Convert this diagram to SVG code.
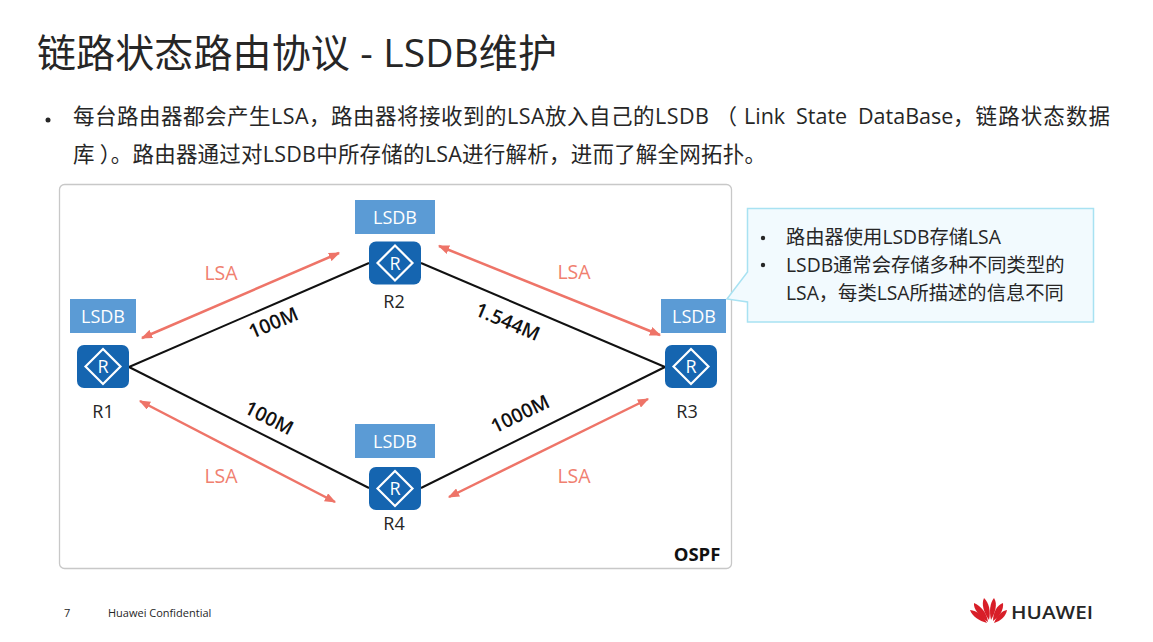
<svg xmlns="http://www.w3.org/2000/svg" width="1153" height="642" viewBox="0 0 1153 642">
<style>
text{font-family:"Open Sans","Noto Sans CJK SC","Noto Sans",sans-serif;fill:#262626}
.title{font-size:39px}
.body{font-size:21.500px}
.call{font-size:19.300px}
.name{font-size:18px;text-anchor:middle}
.db{fill:#5b9bd5}
.dbt{font-size:18px;fill:#fff;text-anchor:middle}
.lsa{font-size:19.500px;fill:#f08070;text-anchor:middle}
.bw{font-size:19.500px;font-weight:600;fill:#111;text-anchor:middle}
.ic{fill:#1565b0}
.dia{fill:none;stroke:#fff;stroke-width:2.200}
.rt{font-size:18px;fill:#fff;text-anchor:middle}
.link{stroke:#111;stroke-width:2;fill:none}
.flow{stroke:#ee7468;stroke-width:2.500;fill:none;marker-start:url(#a);marker-end:url(#a)}
.petal{fill:#d81e28}
</style>
<defs>
<marker id="a" viewBox="0 0 10 8" refX="9" refY="4" markerWidth="4.500" markerHeight="3.600" orient="auto-start-reverse"><path d="M0 0L10 4L0 8z" fill="#ee7468"/></marker>
<g id="router"><rect class="ic" x="-26" y="-21.500" width="52" height="43" rx="7"/><path class="dia" d="M0-17.500L17.500 0L0 17.500L-17.500 0z"/><text class="rt" y="6.500">R</text></g>
</defs>
<rect width="1153" height="642" fill="#fff"/>
<text class="title" x="37" y="67" textLength="520" lengthAdjust="spacing">链路状态路由协议 - LSDB维护</text>
<circle cx="48" cy="120" r="2.500" fill="#262626"/>
<text class="body" x="73" y="124" textLength="664" lengthAdjust="spacing">每台路由器都会产生LSA，路由器将接收到的LSA放入自己的LSDB<tspan dx="6">（</tspan></text>
<text class="body" x="744" y="124">Link</text>
<text class="body" x="796" y="124">State</text>
<text class="body" x="858" y="124">DataBase</text>
<text class="body" x="953" y="124" textLength="157" lengthAdjust="spacing">，链路状态数据</text>
<text class="body" x="73" y="162" textLength="693" lengthAdjust="spacing">库<tspan dx="5">）</tspan>。路由器通过对LSDB中所存储的LSA进行解析，进而了解全网拓扑。</text>
<rect id="panel" x="59.500" y="184.500" width="672" height="384" rx="5" fill="#fff" stroke="#c8c8c8" stroke-width="1.300"/>
<g id="connectors">
<path class="link" d="M129 367L369 263"/>
<path class="link" d="M421 263L665 367"/>
<path class="link" d="M129 367L369 488"/>
<path class="link" d="M421 488L665 367"/>
<path class="flow" d="M142 338L339 253"/>
<path class="flow" d="M439 246L660 335"/>
<path class="flow" d="M140 401L335 502"/>
<path class="flow" d="M449 497L648 399"/>
</g>
<g id="labels">
<text class="lsa" x="221" y="280">LSA</text>
<text class="lsa" x="574" y="279">LSA</text>
<text class="lsa" x="221" y="483">LSA</text>
<text class="lsa" x="574" y="483">LSA</text>
<text class="bw" transform="translate(276 329) rotate(-23)">100M</text>
<text class="bw" transform="translate(505 328) rotate(23)">1.544M</text>
<text class="bw" transform="translate(266 424) rotate(27)">100M</text>
<text class="bw" transform="translate(523 420) rotate(-26)">1000M</text>
<text x="697" y="561" font-size="18.500" font-weight="700" text-anchor="middle" style="fill:#111">OSPF</text>
</g>
<g id="R1"><rect class="db" x="70" y="299" width="66" height="34"/><text class="dbt" x="103" y="323">LSDB</text><use href="#router" x="103" y="366.500"/><text class="name" x="103" y="418">R1</text></g>
<g id="R2"><rect class="db" x="355" y="200" width="80" height="34"/><text class="dbt" x="395" y="224">LSDB</text><use href="#router" x="395" y="263"/><text class="name" x="394" y="308">R2</text></g>
<g id="R3"><rect class="db" x="661" y="299" width="65" height="34"/><text class="dbt" x="694" y="323">LSDB</text><use href="#router" x="691" y="366.500"/><text class="name" x="687" y="418">R3</text></g>
<g id="R4"><rect class="db" x="355" y="424" width="80" height="34"/><text class="dbt" x="395" y="448">LSDB</text><use href="#router" x="395" y="488.500"/><text class="name" x="394" y="530">R4</text></g>
<g id="callout">
<path d="M747.500 208.500H1093.500V322H747.500V302L727 299L747.500 272z" fill="#f2fafe" stroke="#a8e2f2" stroke-width="1.500"/>
<circle cx="763" cy="238" r="2.200" fill="#262626"/>
<text class="call" x="786" y="244">路由器使用LSDB存储LSA</text>
<circle cx="763" cy="265" r="2.200" fill="#262626"/>
<text class="call" x="786" y="272">LSDB通常会存储多种不同类型的</text>
<text class="call" x="786" y="300">LSA，每类LSA所描述的信息不同</text>
</g>
<g id="footer">
<text x="64" y="617" font-size="11">7</text>
<text x="108" y="617" font-size="11">Huawei Confidential</text>
<g id="logo">
<path class="petal" d="M987 623C979 621 972 616 970 610C977 611 983 615 987 623z"/>
<path class="petal" d="M988 622C980 617 973 609 974 603C981 606 987 613 988 622z"/>
<path class="petal" d="M989 620C984 613 981 604 984 598C989 603 991 611 989 620z"/>
<path class="petal" d="M991 620C989 611 990 603 994 598C998 604 995 613 991 620z"/>
<path class="petal" d="M993 621C993 612 997 605 1003 603C1004 610 999 617 993 621z"/>
<path class="petal" d="M994 623C997 615 1002 611 1007 610C1006 616 1001 621 994 623z"/>
</g>
<text x="1011" y="619" font-size="18" font-weight="600" textLength="82" lengthAdjust="spacingAndGlyphs">HUAWEI</text>
</g>
</svg>
